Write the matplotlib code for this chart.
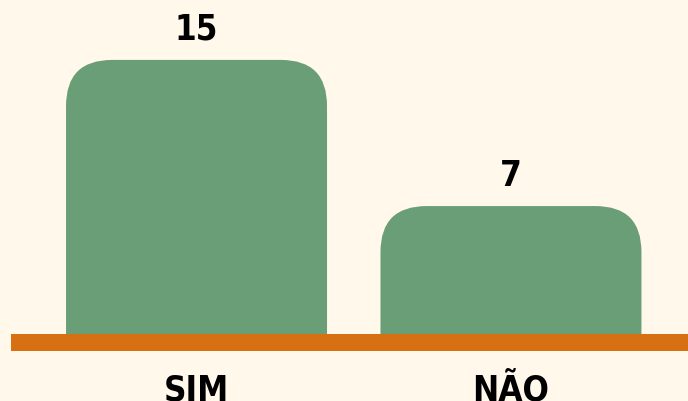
import matplotlib
matplotlib.use('Agg')
import matplotlib.pyplot as plt
from matplotlib.patches import FancyBboxPatch, Rectangle

# Dados
categorias = ['SIM', 'NÃO']
valores = [15, 7]

cor_fundo = '#FFF8EB'
cor_barra = '#6A9E76'
cor_base = '#D77012'

fig = plt.figure(figsize=(6.88, 4.01), dpi=100, facecolor=cor_fundo)
ax = fig.add_axes([0, 0, 1, 1])
ax.set_facecolor(cor_fundo)
ax.set_xlim(-0.625, 1.563)
ax.set_ylim(-3.67, 18.28)
ax.axis('off')

largura = 0.83
px_x = 688 / (1.563 + 0.625)
px_y = 401 / (18.28 + 3.67)
raio_x = 46 / px_x
raio_y = 46 / px_y

estilo_txt = dict(ha='center', va='center', fontsize=25, fontweight='bold',
                  family='DejaVu Sans', fontstretch='condensed', color='black')

for i, (cat, v) in enumerate(zip(categorias, valores)):
    x0 = i - largura / 2
    # barra com topo arredondado (a parte de baixo fica cortada na base)
    barra = FancyBboxPatch((x0, -raio_y * 2), largura, v + raio_y * 2,
                           boxstyle=f'round,pad=0,rounding_size={raio_x}',
                           mutation_aspect=raio_y / raio_x,
                           facecolor=cor_barra, edgecolor='none')
    ax.add_patch(barra)
    clip = Rectangle((x0 - 0.1, 0), largura + 0.2, v + 1, transform=ax.transData)
    barra.set_clip_path(clip)
    ax.text(i, v + 1.65, str(v), **estilo_txt)
    ax.text(i, -3.1, cat, **estilo_txt)

# linha de base laranja
ax.axhspan(-17 / px_y, 0, xmin=11 / 688, xmax=1, color=cor_base, lw=0)

fig.savefig('out.png', dpi=100, facecolor=cor_fundo)
